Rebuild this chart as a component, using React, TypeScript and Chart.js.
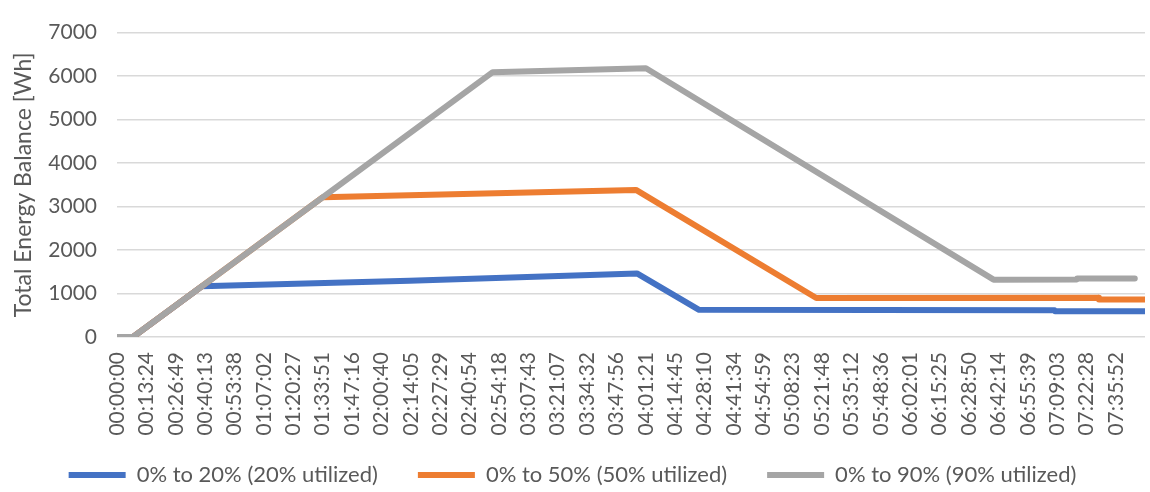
import React, { useEffect, useRef } from "react";
import { Chart, registerables } from "chart.js";

Chart.register(...registerables);

// ---- data ----
const X_TICK_LABELS = [
  "00:00:00", "00:13:24", "00:26:49", "00:40:13", "00:53:38", "01:07:02", "01:20:27",
  "01:33:51", "01:47:16", "02:00:40", "02:14:05", "02:27:29", "02:40:54", "02:54:18",
  "03:07:43", "03:21:07", "03:34:32", "03:47:56", "04:01:21", "04:14:45", "04:28:10",
  "04:41:34", "04:54:59", "05:08:23", "05:21:48", "05:35:12", "05:48:36", "06:02:01",
  "06:15:25", "06:28:50", "06:42:14", "06:55:39", "07:09:03", "07:22:28", "07:35:52",
];
const X_END_TIME = "07:49:10";

const Y_MIN = 0;
const Y_MAX = 7000;
const Y_STEP = 1000;

const SERIES_NAMES = [
  "0% to 20% (20% utilized)",
  "0% to 50% (50% utilized)",
  "0% to 90% (90% utilized)",
];
const SERIES_COLORS = ["#4472C4", "#ED7D31", "#A5A5A5"];

const BLUE_TIMES = ["00:00:00", "00:07:19", "00:38:43", "02:13:30", "03:57:18", "04:25:39", "07:07:50", "07:08:10", "07:49:10"];
const BLUE_VALUES = [0, 0, 1165, 1295, 1463, 625, 618, 590, 590];

const ORANGE_TIMES = ["00:00:00", "00:07:19", "01:33:58", "03:56:51", "05:19:09", "07:28:00", "07:28:10", "07:49:10"];
const ORANGE_VALUES = [0, 0, 3215, 3383, 898, 900, 862, 862];

const GRAY_TIMES = ["00:00:00", "00:07:19", "02:51:28", "04:01:25", "06:40:04", "07:18:00", "07:18:10", "07:44:30"];
const GRAY_VALUES = [0, 0, 6090, 6180, 1318, 1320, 1345, 1345];

const Y_TITLE = "Total Energy Balance [Wh]";

// ---- helpers ----
const toSec = (t: string) => {
  const [h, m, s] = t.split(":").map(Number);
  return h * 3600 + m * 60 + s;
};
const toPoints = (times: string[], values: number[]) =>
  times.map((t, i) => ({ x: toSec(t), y: values[i] }));

const TEXT_COLOR = "#595959";
const FONT = "Lato";

// move the legend up so it sits over the lower part of the rotated tick labels' box
const legendShift = {
  id: "legendShift",
  afterLayout(chart: any) {
    if (chart.legend) {
      chart.legend.top -= 13;
    }
  },
};

export default function App() {
  const ref = useRef<HTMLCanvasElement | null>(null);

  useEffect(() => {
    if (!ref.current) return;
    const chart = new Chart(ref.current, {
      type: "line",
      data: {
        datasets: [
          { label: SERIES_NAMES[0], data: toPoints(BLUE_TIMES, BLUE_VALUES), borderColor: SERIES_COLORS[0], backgroundColor: SERIES_COLORS[0], order: 2 },
          { label: SERIES_NAMES[1], data: toPoints(ORANGE_TIMES, ORANGE_VALUES), borderColor: SERIES_COLORS[1], backgroundColor: SERIES_COLORS[1], order: 1 },
          { label: SERIES_NAMES[2], data: toPoints(GRAY_TIMES, GRAY_VALUES), borderColor: SERIES_COLORS[2], backgroundColor: SERIES_COLORS[2], order: 0 },
        ].map((d) => ({
          ...d,
          borderWidth: 6,
          pointRadius: 0,
          pointHoverRadius: 0,
          tension: 0,
          fill: false,
          borderCapStyle: "round" as const,
          borderJoinStyle: "round" as const,
          pointStyle: "line" as const,
        })),
      },
      plugins: [legendShift],
      options: {
        animation: false,
        responsive: false,
        devicePixelRatio: 1,
        layout: { padding: { left: 0, right: 5, top: 15, bottom: 0 } },
        plugins: {
          tooltip: { enabled: false },
          legend: {
            position: "bottom",
            maxHeight: 55,
            labels: {
              usePointStyle: true,
              pointStyleWidth: 57,
              padding: 40,
              color: TEXT_COLOR,
              font: { family: FONT, size: 22 },
              sort: (a: any, b: any) => a.datasetIndex - b.datasetIndex,
            },
          },
        },
        scales: {
          x: {
            type: "linear",
            min: 0,
            max: toSec(X_END_TIME),
            grid: { display: false },
            border: { display: false },
            afterBuildTicks: (scale: any) => {
              scale.ticks = X_TICK_LABELS.map((l) => ({ value: toSec(l) }));
            },
            afterFit: (scale: any) => {
              scale.height = 100;
            },
            ticks: {
              autoSkip: false,
              minRotation: 90,
              maxRotation: 90,
              padding: 7,
              color: TEXT_COLOR,
              font: { family: FONT, size: 21 },
              callback: (_v: any, i: number) => X_TICK_LABELS[i],
            },
          },
          y: {
            min: Y_MIN,
            max: Y_MAX,
            grid: { color: "#d9d9d9", lineWidth: 1.5, drawTicks: false },
            border: { display: false },
            afterFit: (scale: any) => {
              scale.width = 117;
            },
            ticks: {
              stepSize: Y_STEP,
              padding: 20,
              color: TEXT_COLOR,
              font: { family: FONT, size: 21 },
              callback: (v: any) => String(v),
            },
            title: {
              display: true,
              text: Y_TITLE,
              color: TEXT_COLOR,
              font: { family: FONT, size: 23 },
              padding: { top: 10, bottom: 0 },
            },
          },
        },
      },
    });
    return () => chart.destroy();
  }, []);

  return (
    <div style={{ position: "fixed", left: 0, top: 0, width: 1150, height: 492, background: "#fff" }}>
      <canvas ref={ref} width={1150} height={492} style={{ width: 1150, height: 492 }} />
    </div>
  );
}
